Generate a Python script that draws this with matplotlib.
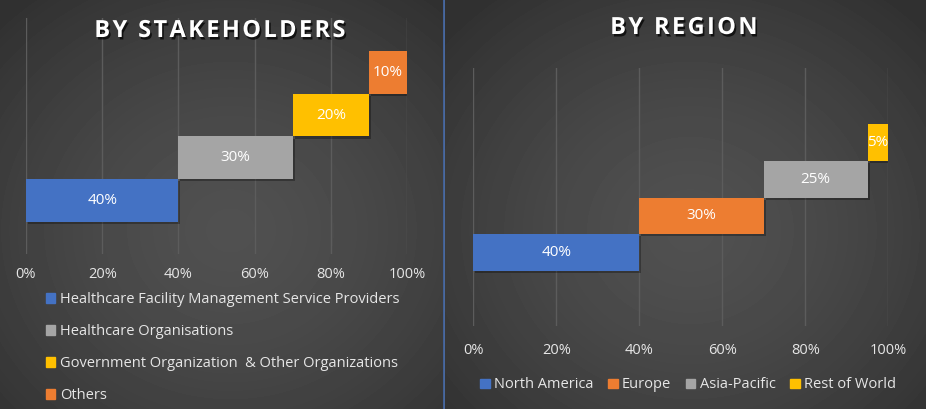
import numpy as np
import matplotlib
matplotlib.use("Agg")
import matplotlib.pyplot as plt
from matplotlib.patches import Patch
import matplotlib.patheffects as pe

plt.rcParams['font.family'] = ['Open Sans', 'DejaVu Sans']

# data
stake_labels = ["Healthcare Facility Management Service Providers",
                "Healthcare Organisations",
                "Government Organization  & Other Organizations",
                "Others"]
stake_share = [40, 30, 20, 10]
region_labels = ["North America", "Europe", "Asia-Pacific", "Rest of World"]
region_share = [40, 30, 25, 5]
stake_colors = ["#4472C4", "#A5A5A5", "#FFC000", "#ED7D31"]
region_colors = ["#4472C4", "#ED7D31", "#A5A5A5", "#FFC000"]
xticks = [0, 20, 40, 60, 80, 100]

W, H = 926, 409
fig = plt.figure(figsize=(W / 100, H / 100), dpi=100)

# background: a radial shade per panel
bg = fig.add_axes([0, 0, 1, 1], zorder=-10)
yy, xx = np.mgrid[0:H, 0:W]
img = np.zeros((H, W))
for x0, x1, cx, cy in [(0, 443, 230, 230), (444, W, 690, 230)]:
    d = np.sqrt(((xx - cx) / 320.0) ** 2 + ((yy - cy) / 290.0) ** 2)
    v = 0.315 - 0.12 * np.clip(d, 0, 1) ** 1.5
    mask = (xx >= x0) & (xx < x1)
    img[mask] = v[mask]
bg.imshow(img, cmap="gray", vmin=0, vmax=1, extent=[0, W, H, 0], aspect="auto")
bg.axvline(443.5, color="#4f74b3", lw=1.2)
bg.set_xlim(0, W)
bg.set_ylim(H, 0)
bg.axis("off")

tick_color = "#e6e6e6"
bar_fx = [pe.SimplePatchShadow(offset=(1.5, -1.5), shadow_rgbFace="black", alpha=0.3), pe.Normal()]
title_fx = [pe.withSimplePatchShadow(offset=(1.2, -1.8), shadow_rgbFace="black", alpha=0.7)]


def px_axes(l, r, t, b):
    return fig.add_axes([l / W, 1 - b / H, (r - l) / W, (b - t) / H])


def waterfall(ax, shares, colors, ylim, pad):
    starts = np.concatenate([[0], np.cumsum(shares)[:-1]])
    ys = np.arange(len(shares))
    bars = ax.barh(ys, shares, left=starts, height=1.0, color=colors, zorder=3)
    for b in bars:
        b.set_path_effects(bar_fx)
    for y, s, v in zip(ys, starts, shares):
        ax.text(s + v / 2, y, f"{v}%", ha="center", va="center", color="white",
                fontsize=11, zorder=4)
    ax.set_xlim(0, 100)
    ax.set_ylim(*ylim)
    ax.set_xticks(xticks)
    ax.set_xticklabels([f"{t}%" for t in xticks], color=tick_color, fontsize=10.5)
    ax.set_yticks([])
    ax.tick_params(axis="x", length=0, pad=pad)
    ax.grid(axis="x", color="#5c5c5c", lw=1, zorder=0)
    ax.set_facecolor("none")
    for s in ax.spines.values():
        s.set_visible(False)


ax1 = px_axes(26, 407, 18, 254)
waterfall(ax1, stake_share, stake_colors, (-1.25, 4.27), 9)
ax2 = px_axes(473.3, 888.3, 68.3, 326)
waterfall(ax2, region_share, region_colors, (-2.0, 5.02), 12)


def spaced(s):
    return "\u200a".join(s)


fig.text(220 / W, 1 - 31 / H, spaced("BY STAKEHOLDERS"), ha="center", va="center", color="white",
         fontsize=17, fontweight="bold", path_effects=title_fx)
fig.text(684 / W, 1 - 28 / H, spaced("BY REGION"), ha="center", va="center", color="white",
         fontsize=17, fontweight="bold", path_effects=title_fx)

h1 = [Patch(color=c) for c in stake_colors]
fig.legend(h1, stake_labels, loc="upper left", bbox_to_anchor=(40 / W, 1 - 286 / H),
           frameon=False, fontsize=10.5, labelcolor=tick_color, handlelength=0.65,
           handleheight=0.65, handletextpad=0.3, labelspacing=1.17, borderaxespad=0)
h2 = [Patch(color=c) for c in region_colors]
fig.legend(h2, region_labels, loc="center", bbox_to_anchor=(688 / W, 1 - 385 / H),
           ncol=4, frameon=False, fontsize=10.5, labelcolor=tick_color, handlelength=0.65,
           handleheight=0.65, handletextpad=0.3, columnspacing=1.0, borderaxespad=0)

fig.savefig("out.png", dpi=100)
